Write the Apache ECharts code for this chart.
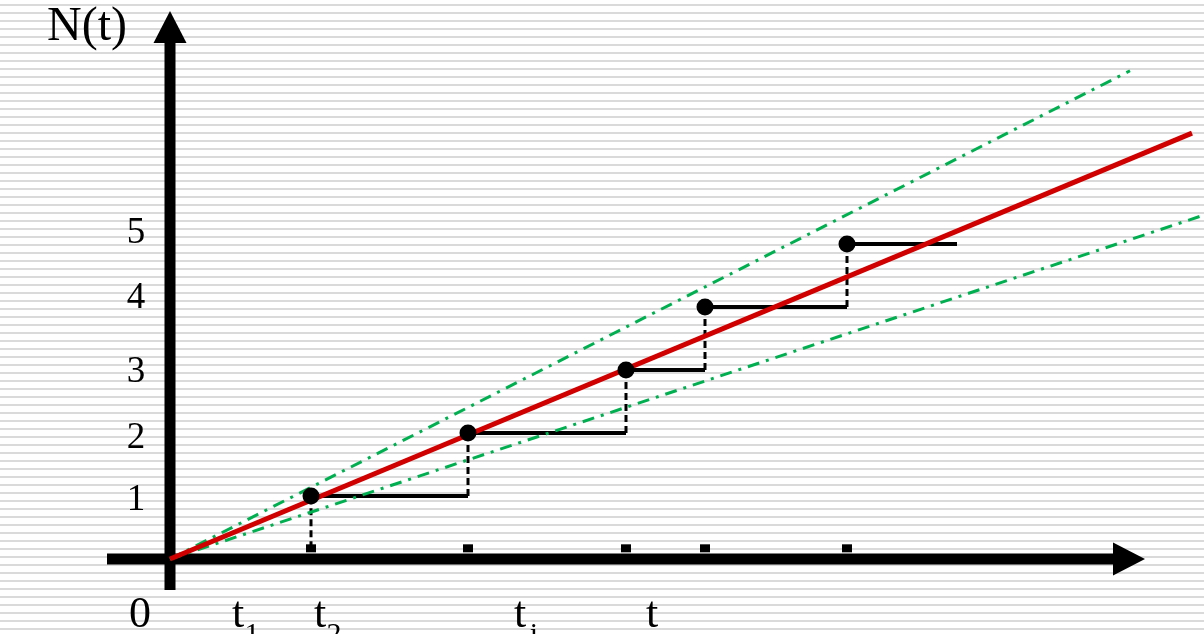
<!DOCTYPE html>
<html>
<head>
<meta charset="utf-8">
<script src="https://cdn.jsdelivr.net/npm/echarts@6/dist/echarts.min.js"></script>
<style>html,body{margin:0;padding:0;background:#fff}#c{width:1204px;height:634px}</style>
</head>
<body>
<div id="c"></div>
<script>
// ---- data (time in arbitrary units, counts) ----
var eventTimes = [1.41, 2.98, 4.56, 5.35, 6.77];
var counts = [1, 2, 3, 4, 5];
var stepEnd = 7.87;
var tickMarkLevel = 0.17;
var redLineEnd = [10.22, 6.76];
var greenUpperEnd = [9.60, 7.75];
var greenLowerEnd = [10.34, 5.46];
var xAxisExtent = [-0.63, 9.43];
var yAxisExtent = [-0.492, 8.19];
var yTickLabels = ['1', '2', '3', '4', '5'];
var yTickLabelPos = [0.94, 1.92, 2.97, 4.14, 5.17];
var xTickLabels = ['0', 't', 't', 't', 't'];
var xTickSubs = ['', '1', '2', 'i', ''];
var xTickLabelPos = [-0.30, 0.68, 1.50, 3.50, 4.82];
var xTickLabelLevel = -0.90;
var yTitle = 'N(t)';
var yTitlePos = [-0.83, 8.44];

var serif = '"Liberation Serif", "Times New Roman", serif';

var chart = echarts.init(document.getElementById('c'), null, {renderer: 'canvas'});

// background stripes
var stripes = [];
for (var k = 0; k * 8 + 4 < 634; k++) {
  stripes.push({type: 'rect', shape: {x: 0, y: 4 + 8 * k, width: 1204, height: 2},
    style: {fill: '#dadada'}, z: -100, silent: true});
}

var series = [];
function lineSeries(data, style, z) {
  return {type: 'line', data: data, symbol: 'none', lineStyle: style, clip: false, z: z, silent: true};
}
// axes (drawn as data-space lines with arrowheads)
series.push(lineSeries([[xAxisExtent[0], 0], [xAxisExtent[1], 0]], {color: '#000', width: 11, cap: 'butt'}, 2));
series.push(lineSeries([[0, yAxisExtent[0]], [0, yAxisExtent[1]]], {color: '#000', width: 11, cap: 'butt'}, 2));
series.push({type: 'scatter', clip: false, silent: true, z: 2, symbol: 'triangle', symbolSize: [33, 32],
  itemStyle: {color: '#000', opacity: 1},
  data: [
    {value: [xAxisExtent[1] + 0.16, 0], symbolRotate: -90},
    {value: [0, yAxisExtent[1] + 0.254], symbolRotate: 0}
  ]});
// step horizontals
eventTimes.forEach(function (t, i) {
  var tEnd = i < eventTimes.length - 1 ? eventTimes[i + 1] : stepEnd;
  series.push(lineSeries([[t, counts[i]], [tEnd, counts[i]]], {color: '#000', width: 4}, 3));
});
// dashed verticals
eventTimes.forEach(function (t, i) {
  var from = i === 0 ? tickMarkLevel : counts[i - 1];
  series.push(lineSeries([[t, from], [t, counts[i]]], {color: '#000', width: 3, type: [7, 4]}, 3));
});
// green bounds
[greenUpperEnd, greenLowerEnd].forEach(function (e) {
  series.push(lineSeries([[0, 0], e], {color: '#00b050', width: 3, type: [12, 7, 3, 7]}, 4));
});
// red mean line
series.push(lineSeries([[0, 0], redLineEnd], {color: '#d00000', width: 5}, 5));
// event dots
series.push({type: 'scatter', data: eventTimes.map(function (t, i) { return [t, counts[i]]; }),
  symbol: 'circle', symbolSize: 17, itemStyle: {color: '#000', opacity: 1}, clip: false, z: 6, silent: true});
// small squares on axis
series.push({type: 'scatter', data: eventTimes.map(function (t) { return [t, tickMarkLevel]; }),
  symbol: 'rect', symbolSize: [10, 8], itemStyle: {color: '#000', opacity: 1}, clip: false, z: 6, silent: true});

function textSeries(data, size) {
  return {type: 'scatter', symbolSize: 0, clip: false, silent: true, z: 7,
    itemStyle: {opacity: 1},
    data: data,
    label: {show: true, position: 'inside', formatter: '{b}', color: '#000', opacity: 1,
      fontFamily: serif, fontSize: size}};
}
series.push(textSeries(yTickLabels.map(function (s, i) { return {value: [-0.34, yTickLabelPos[i]], name: s}; }), 37));
series.push(textSeries(xTickLabels.map(function (s, i) { return {value: [xTickLabelPos[i], xTickLabelLevel], name: s}; }), 44));
series.push(textSeries(xTickSubs.map(function (s, i) { return {value: [xTickLabelPos[i] + 0.14, xTickLabelLevel - 0.3], name: s}; }), 30));
series.push(textSeries([{value: yTitlePos, name: yTitle}], 48));

var hiddenAxis = {type: 'value', show: false, axisLine: {show: false}, splitLine: {show: false}};

chart.setOption({
  backgroundColor: '#fff',
  animation: false,
  graphic: stripes,
  grid: {left: 0, right: 0, top: 0, bottom: 0},
  xAxis: Object.assign({}, hiddenAxis, {min: -1.70, max: 10.34}),
  yAxis: Object.assign({}, hiddenAxis, {min: -1.190, max: 8.873}),
  series: series
});
</script>
</body>
</html>
